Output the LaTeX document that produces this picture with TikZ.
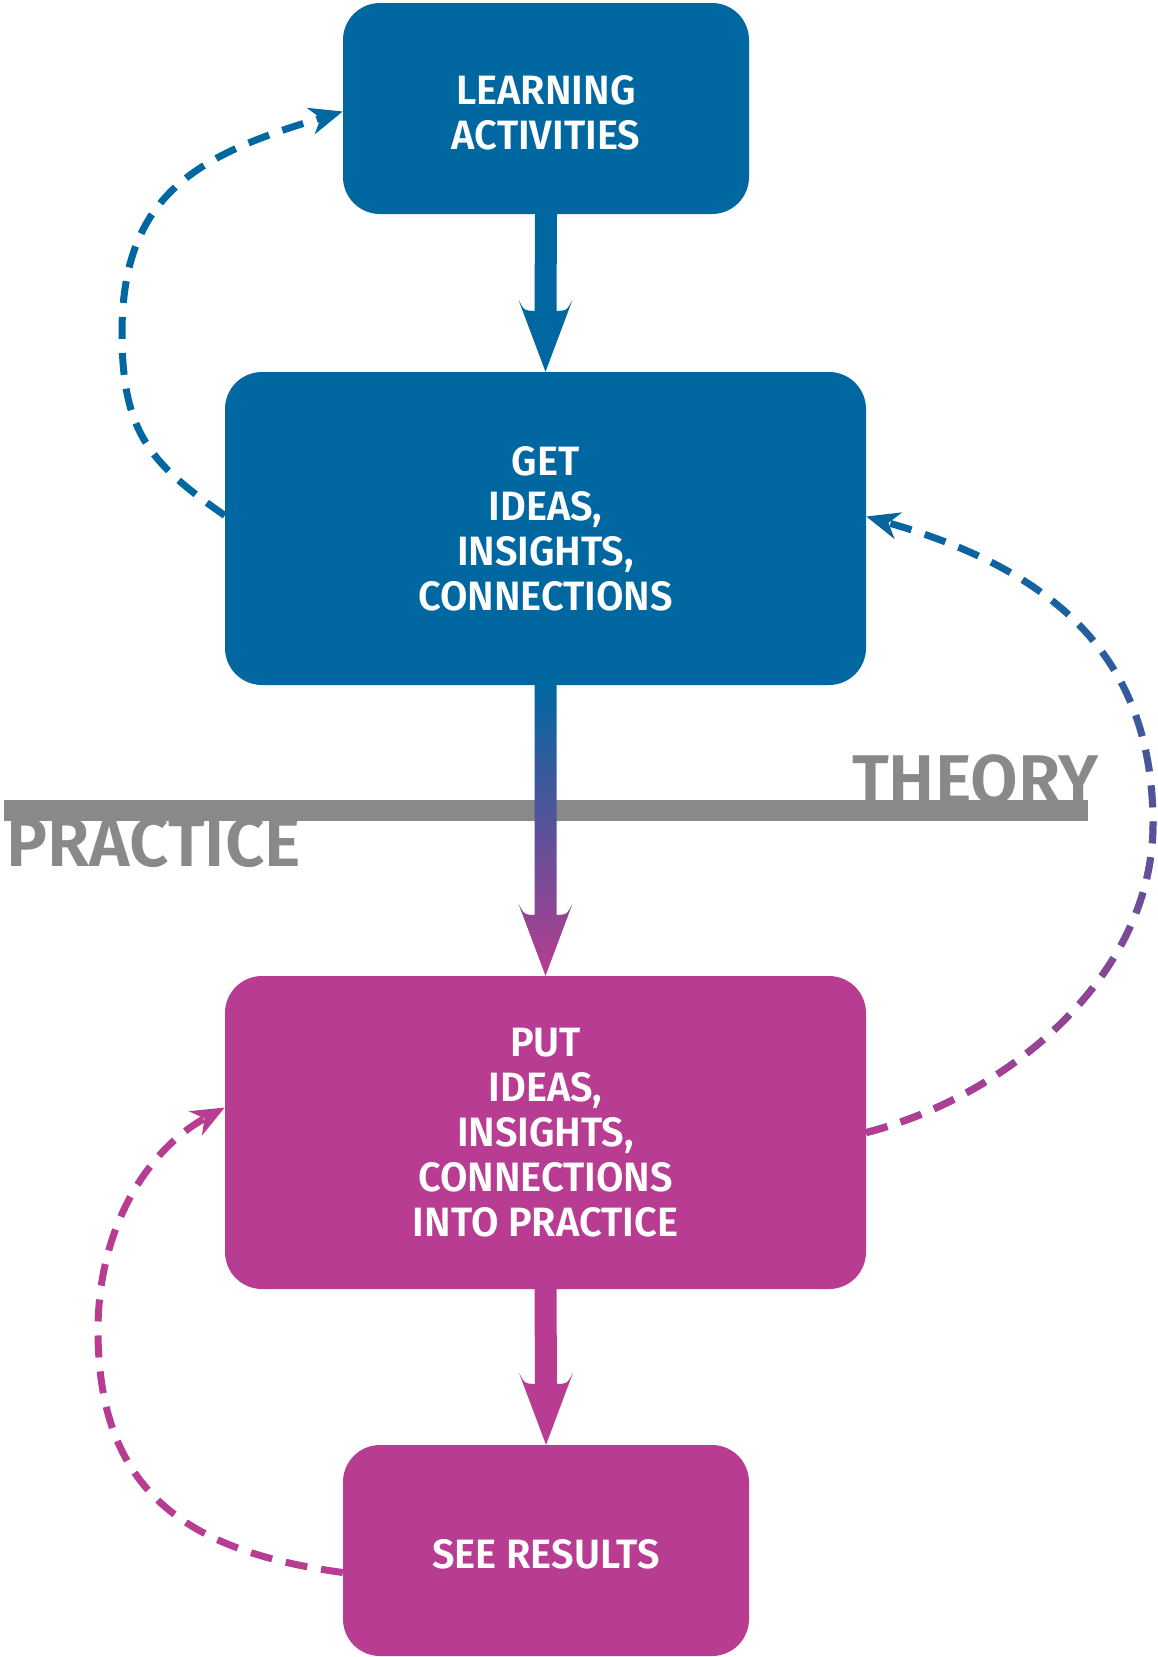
\documentclass[tikz,border=0pt]{standalone}
\usepackage{fontspec}
\setmainfont{Fira Sans}
\newfontfamily\boxfont[FakeStretch=0.97]{Fira Sans SemiBold}
\newfontfamily\sidefont{Fira Sans SemiBold}
\usetikzlibrary{arrows.meta,calc,fadings}
\definecolor{cblue}{RGB}{0,103,161}
\definecolor{cmag}{RGB}{184,60,145}
\definecolor{cgray}{RGB}{136,137,139}
\tikzfading[name=fadeup, top color=transparent!100, bottom color=transparent!0]
\begin{document}
\begin{tikzpicture}[x=1pt,y=-1pt]

\tikzstyle{every node}+=[inner sep=0pt]
\tikzstyle{roundbox}=[rounded corners=37pt, align=center, text=white, font=\boxfont\fontsize{41}{45}\selectfont]
\tikzstyle{smallbox}=[roundbox, minimum width=406pt, minimum height=211pt]
\tikzstyle{bigbox}=[roundbox, minimum width=641pt, minimum height=313pt]
\tikzstyle{feedback}=[line width=7pt, dash pattern=on 22pt off 14pt, -{Stealth[length=33pt,width=27pt,inset=10pt]}]
\tikzstyle{side}=[text=cgray, font=\sidefont\fontsize{69}{69}\selectfont]
\useasboundingbox (0,0) rectangle (1157,1657);
\node [smallbox, fill=cblue, text height=82pt, text depth=0pt] (la) at (546,108.5) {LEARNING\\ACTIVITIES};
\node [bigbox, fill=cblue] (gi) at (545.5,528.5) {GET\\IDEAS,\\INSIGHTS,\\CONNECTIONS};
\node [bigbox, fill=cmag] (gp) at (545.5,1132.5) {PUT\\IDEAS,\\INSIGHTS,\\CONNECTIONS\\INTO PRACTICE};
\node [smallbox, fill=cmag, text height=35pt, text depth=0pt] (sr) at (546,1550.5) {SEE RESULTS};
\node [side, anchor=base east] (th) at (1099,803) {THEORY};
\node [side, anchor=base west] (pr) at (6,866) {PRACTICE};
\fill [cgray] (4,800) rectangle (1088,821);
\fill [cblue] ($(la.south)+(-11,0)$) -- ($(gi.north)+(-11,-61)$) .. controls ($(gi.north)+(-21,-61)$) .. ($(gi.north)+(-27,-72)$) -- (gi.north) -- ($(gi.north)+(27,-72)$) .. controls ($(gi.north)+(21,-61)$) .. ($(gi.north)+(11,-61)$) -- ($(la.south)+(11,0)$) -- cycle;
\shade [top color=cblue, bottom color=cmag] ($(gi.south)+(-11,0)$) -- ($(gp.north)+(-11,-61)$) .. controls ($(gp.north)+(-21,-61)$) .. ($(gp.north)+(-27,-72)$) -- (gp.north) -- ($(gp.north)+(27,-72)$) .. controls ($(gp.north)+(21,-61)$) .. ($(gp.north)+(11,-61)$) -- ($(gi.south)+(11,0)$) -- cycle;
\fill [cmag] ($(gp.south)+(-11,0)$) -- ($(sr.north)+(-11,-61)$) .. controls ($(sr.north)+(-21,-61)$) .. ($(sr.north)+(-27,-72)$) -- (sr.north) -- ($(sr.north)+(27,-72)$) .. controls ($(sr.north)+(21,-61)$) .. ($(sr.north)+(11,-61)$) -- ($(gp.south)+(11,0)$) -- cycle;
\draw [feedback, cblue] ($(gi.west)+(0,-13)$) .. controls (151,464) and (122,433) .. (122,333) .. controls (122,193) and (199,154.5) .. ($(la.west)+(0,3)$);
\draw [feedback, cblue] (gp.east) .. controls (1011,1095) and (1153,974) .. (1153,824) .. controls (1153,654) and (1050,569) .. ($(gi.east)+(0,-12)$);
\draw [feedback, cmag, path fading=fadeup, fit fading=true] (gp.east) .. controls (1011,1095) and (1153,974) .. (1153,824) .. controls (1153,654) and (1050,569) .. ($(gi.east)+(0,-12)$);
\draw [feedback, cmag] ($(sr.west)+(0,22)$) .. controls (184.6,1551) and (98,1490) .. (98,1330) .. controls (98,1230) and (146,1150) .. ($(gp.west)+(0,-25)$);
\end{tikzpicture}
\end{document}
